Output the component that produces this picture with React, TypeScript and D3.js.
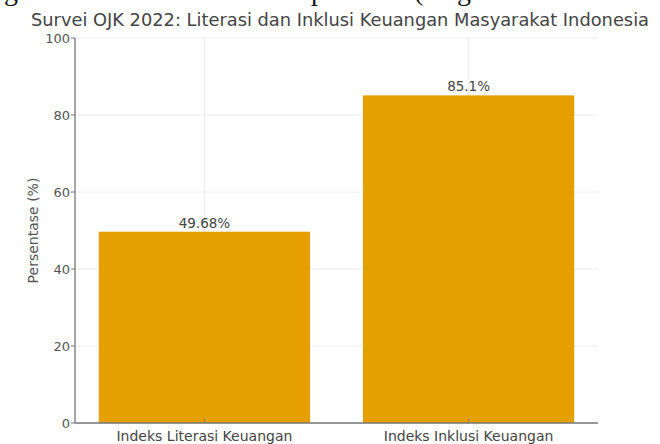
import React from "react";
import * as d3 from "d3";

const categories = ["Indeks Literasi Keuangan", "Indeks Inklusi Keuangan"];
const values = [49.68, 85.1];
const valueLabels = ["49.68%", "85.1%"];
const yTicks = [0, 20, 40, 60, 80, 100];
const titleText = "Survei OJK 2022: Literasi dan Inklusi Keuangan Masyarakat Indonesia";
const yLabel = "Persentase (%)";

export default function App() {
  const W = 660, H = 444;
  const left = 75, right = 598, top = 38, bottom = 423;
  const x = d3.scaleLinear().domain([-0.49, 1.49]).range([left, right]);
  const y = d3.scaleLinear().domain([0, 100]).range([bottom, top]);
  const bw = x(0.4) - x(-0.4);
  const font = "'DejaVu Sans', sans-serif";
  return (
    <svg width={W} height={H} style={{ position: "fixed", left: 0, top: 0, background: "#fff" }}>
      <rect width={W} height={H} fill="#fff" />
      {/* cropped document text descenders */}
      <g fontFamily="'Liberation Serif', 'DejaVu Serif', serif" fontSize={28} fill="#111">
        <text x={4} y={0}>g</text>
        <text x={311} y={0}>p</text>
        <text x={414} y={0}>(</text>
        <text x={457} y={0}>g</text>
      </g>
      <text x={340} y={26} textAnchor="middle" fontFamily={font} fontSize={18.5} fill="#444" textLength={618} lengthAdjust="spacingAndGlyphs">{titleText}</text>
      {/* grid */}
      {yTicks.map((t) => (
        <line key={"g" + t} x1={left} x2={right} y1={y(t)} y2={y(t)} stroke="#ececec" strokeWidth={1} />
      ))}
      {categories.map((c, i) => (
        <line key={"gv" + i} x1={x(i)} x2={x(i)} y1={top} y2={bottom} stroke="#ececec" strokeWidth={1} />
      ))}
      {/* bars */}
      {values.map((v, i) => (
        <rect key={"b" + i} x={x(i) - bw / 2} y={y(v)} width={bw} height={y(0) - y(v)} fill="#E5A000" />
      ))}
      {values.map((v, i) => (
        <text key={"l" + i} x={x(i)} y={y(v) - 4} textAnchor="middle" fontFamily={font} fontSize={13.5} fill="#444">{valueLabels[i]}</text>
      ))}
      {/* axes */}
      <line x1={left} x2={left} y1={top} y2={bottom} stroke="#777" strokeWidth={1.3} />
      <line x1={left} x2={right} y1={bottom} y2={bottom} stroke="#777" strokeWidth={1.3} />
      {yTicks.map((t) => (
        <g key={"t" + t}>
          <line x1={left - 4} x2={left} y1={y(t)} y2={y(t)} stroke="#777" strokeWidth={1} />
          <text x={left - 5} y={y(t) + 5} textAnchor="end" fontFamily={font} fontSize={13} fill="#555">{t}</text>
        </g>
      ))}
      {categories.map((c, i) => (
        <g key={"xt" + i}>
          <line x1={x(i)} x2={x(i)} y1={bottom - 4} y2={bottom} stroke="#777" strokeWidth={1} />
          <text x={x(i)} y={bottom + 18} textAnchor="middle" fontFamily={font} fontSize={14} fill="#444">{c}</text>
        </g>
      ))}
      <text transform={`translate(38,${(top + bottom) / 2}) rotate(-90)`} textAnchor="middle" fontFamily={font} fontSize={14} fill="#555">{yLabel}</text>
    </svg>
  );
}
